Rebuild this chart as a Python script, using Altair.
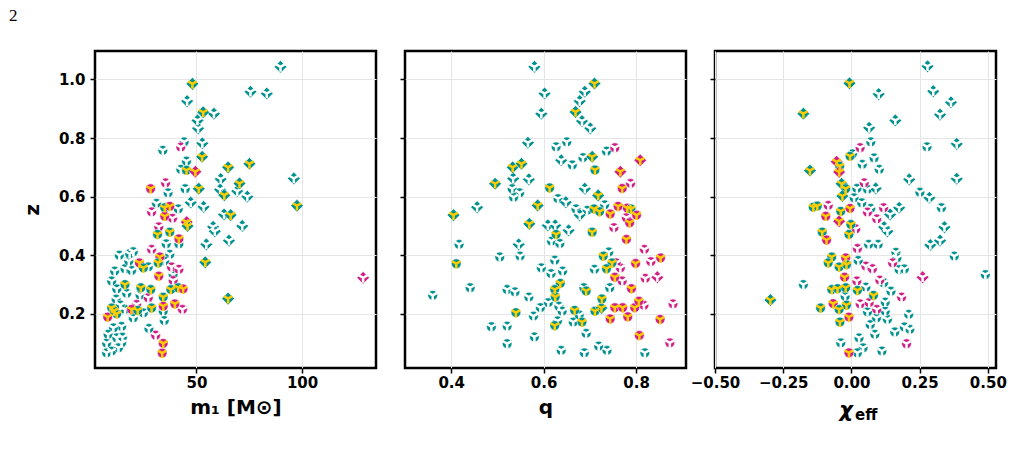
import altair as alt
import pandas as pd

# ---------------- data ----------------
# category codes: A teal circle/white, B teal diamond/white, C teal diamond/yellow,
# D teal circle/yellow, E magenta circle/white, F magenta circle/yellow,
# G magenta diamond/white, H magenta diamond/yellow
m1_x = [89.8, 48.1, 45.6, 75.6, 83.3, 53.2, 58.3, 50.5, 50.8, 44.2, 52.8, 42.6, 34.1, 52.7, 45.3, 42.6, 45.3, 49.5,
        65.0, 75.1, 61.5, 70.4, 69.3, 74.1, 61.2, 63.2, 96.1, 97.6, 51.1, 44.7, 36.6, 28.3, 35.4, 47.3, 53.4, 31.1,
        28.8, 35.0, 37.4, 41.4, 35.0, 38.7, 45.4, 45.8, 63.1, 66.2, 71.7, 57.9, 58.7, 32.2, 31.6, 37.4, 41.7, 41.7,
        35.7, 54.7, 65.4, 28.8, 20.1, 54.2, 37.4, 32.7, 35.0, 23.0, 24.9, 27.2, 31.9, 38.2, 41.7, 16.2, 19.3, 32.2,
        39.0, 39.0, 16.2, 23.7, 28.4, 37.9, 41.4, 43.7, 23.3, 27.2, 34.3, 39.8, 43.4, 34.3, 21.7, 19.3, 22.2, 28.8,
        34.3, 24.9, 20.1, 16.2, 34.8, 27.5, 30.7, 34.3, 33.8, 14.6, 14.6, 65.0, 128.9, 11.3, 9.9, 12.3, 9.9, 12.3,
        8.0, 10.7, 8.2, 12.3, 7.5, 9.9, 7.5, 13.1, 13.5, 18.0, 12.0, 14.0, 11.0, 17.0, 15.0, 18.4]
m1_z = [1.043, 0.985, 0.926, 0.958, 0.952, 0.888, 0.883, 0.860, 0.833, 0.787, 0.782, 0.769, 0.758, 0.736, 0.721,
        0.693, 0.690, 0.685, 0.700, 0.712, 0.660, 0.645, 0.619, 0.600, 0.624, 0.605, 0.662, 0.569, 0.627, 0.627,
        0.613, 0.627, 0.647, 0.580, 0.565, 0.577, 0.548, 0.562, 0.567, 0.558, 0.533, 0.526, 0.513, 0.500, 0.539,
        0.537, 0.500, 0.497, 0.482, 0.497, 0.471, 0.479, 0.456, 0.439, 0.439, 0.437, 0.450, 0.420, 0.412, 0.376,
        0.403, 0.394, 0.380, 0.374, 0.357, 0.360, 0.374, 0.360, 0.352, 0.354, 0.348, 0.329, 0.334, 0.314, 0.300,
        0.289, 0.283, 0.283, 0.289, 0.285, 0.264, 0.255, 0.257, 0.234, 0.215, 0.226, 0.232, 0.215, 0.212, 0.220,
        0.209, 0.203, 0.186, 0.215, 0.177, 0.150, 0.127, 0.099, 0.066, 0.157, 0.101, 0.252, 0.323, 0.346, 0.312,
        0.285, 0.220, 0.200, 0.189, 0.152, 0.130, 0.118, 0.100, 0.073, 0.067, 0.084, 0.400, 0.380, 0.250, 0.230,
        0.210, 0.270, 0.120, 0.405]
m1_cat = list("BCBBBCBBBABEACAADHCCBCBBBCBCCAAFEBBAEDFAFEHCBCBBBEDDFAABBEACAFAFDADEEAAFAEDDDDDFAEDFEFEFDDAAAAAAEFFAACG"
              "AAADDFAAAAAAAAAAADAAA")

q_x = [0.580, 0.602, 0.595, 0.710, 0.689, 0.678, 0.669, 0.683, 0.701, 0.566, 0.627, 0.650, 0.638, 0.662, 0.685,
       0.705, 0.711, 0.736, 0.754, 0.809, 0.766, 0.788, 0.770, 0.533, 0.552, 0.534, 0.568, 0.532, 0.548, 0.535,
       0.495, 0.613, 0.689, 0.718, 0.631, 0.648, 0.587, 0.456, 0.405, 0.670, 0.694, 0.709, 0.721, 0.732, 0.744,
       0.761, 0.781, 0.789, 0.801, 0.779, 0.786, 0.752, 0.678, 0.569, 0.609, 0.625, 0.654, 0.627, 0.617, 0.635,
       0.705, 0.779, 0.818, 0.853, 0.832, 0.799, 0.846, 0.820, 0.790, 0.770, 0.754, 0.766, 0.757, 0.748, 0.736,
       0.729, 0.741, 0.710, 0.417, 0.411, 0.360, 0.441, 0.505, 0.549, 0.546, 0.595, 0.616, 0.624, 0.641, 0.636,
       0.624, 0.625, 0.521, 0.538, 0.568, 0.610, 0.593, 0.540, 0.578, 0.633, 0.640, 0.630, 0.624, 0.667, 0.664,
       0.677, 0.683, 0.687, 0.692, 0.711, 0.725, 0.726, 0.743, 0.744, 0.754, 0.771, 0.782, 0.797, 0.817, 0.806,
       0.880, 0.852, 0.873, 0.807, 0.819, 0.737, 0.719, 0.688, 0.638, 0.692, 0.580, 0.521, 0.521, 0.487, 0.328]
q_z = [1.043, 0.952, 0.883, 0.986, 0.958, 0.926, 0.889, 0.858, 0.833, 0.784, 0.770, 0.787, 0.724, 0.708, 0.733,
       0.736, 0.691, 0.755, 0.767, 0.724, 0.685, 0.645, 0.628, 0.700, 0.712, 0.662, 0.659, 0.627, 0.613, 0.598,
       0.644, 0.630, 0.627, 0.604, 0.593, 0.581, 0.570, 0.564, 0.537, 0.558, 0.553, 0.558, 0.549, 0.572, 0.541,
       0.567, 0.561, 0.558, 0.537, 0.528, 0.511, 0.494, 0.537, 0.507, 0.502, 0.502, 0.485, 0.471, 0.448, 0.440,
       0.479, 0.454, 0.420, 0.391, 0.378, 0.372, 0.325, 0.321, 0.286, 0.312, 0.325, 0.357, 0.374, 0.374, 0.354,
       0.397, 0.411, 0.352, 0.437, 0.371, 0.263, 0.289, 0.394, 0.397, 0.437, 0.357, 0.337, 0.383, 0.346, 0.304,
       0.283, 0.258, 0.283, 0.275, 0.257, 0.238, 0.221, 0.204, 0.192, 0.226, 0.209, 0.176, 0.160, 0.212, 0.172,
       0.196, 0.172, 0.289, 0.278, 0.209, 0.220, 0.251, 0.289, 0.183, 0.221, 0.221, 0.190, 0.221, 0.229, 0.243,
       0.234, 0.181, 0.101, 0.126, 0.067, 0.075, 0.090, 0.067, 0.075, 0.133, 0.121, 0.098, 0.158, 0.156, 0.147]
q_cat = list("BBBCBBCBBBAABAACDAEHHEFCCBBAAACDBCABCBCAADDAFFFDFEFEBCBBBDAADFEFEFGEFEFEEDDDAAADAAAABAAAADDDAAAAADAAAADDAA"
             "DADDCDAFFFFFEFEFEFAAAAAAAAAA")

chi_x = [0.279, -0.007, 0.100, 0.300, -0.176, 0.065, 0.161, 0.325, 0.365, 0.386, 0.277, 0.071, 0.032, 0.004,
         -0.005, 0.083, 0.040, 0.102, -0.054, -0.043, -0.045, -0.152, 0.212, 0.386, 0.251, 0.286, 0.330, 0.047,
         -0.036, -0.021, 0.020, 0.059, 0.089, -0.033, 0.010, 0.038, 0.071, 0.118, 0.175, 0.142, 0.093, 0.059,
         -0.140, -0.125, -0.085, -0.094, -0.039, -0.005, -0.045, -0.002, 0.016, 0.120, 0.132, 0.341, -0.107,
         -0.091, -0.009, 0.022, 0.063, 0.098, 0.289, 0.325, 0.377, 0.163, 0.167, 0.175, 0.194, 0.151, 0.261,
         0.491, 0.025, 0.053, 0.077, -0.072, -0.085, -0.045, -0.021, -0.018, -0.025, 0.020, 0.104, 0.118, 0.053,
         -0.176, -0.072, -0.051, -0.021, 0.022, -0.023, 0.081, 0.145, 0.184, -0.297, -0.113, -0.067, -0.045,
         -0.018, -0.009, -0.042, 0.032, 0.065, 0.093, 0.124, 0.059, 0.092, 0.132, 0.069, 0.124, 0.210, 0.194,
         0.214, 0.159, 0.086, 0.202, 0.028, 0.043, 0.022, 0.112, -0.039, -0.009]
chi_z = [1.045, 0.987, 0.950, 0.960, 0.883, 0.835, 0.860, 0.880, 0.922, 0.780, 0.770, 0.787, 0.767, 0.746, 0.738,
         0.732, 0.710, 0.693, 0.719, 0.704, 0.684, 0.689, 0.659, 0.661, 0.615, 0.596, 0.562, 0.647, 0.644, 0.627,
         0.628, 0.625, 0.628, 0.602, 0.596, 0.579, 0.560, 0.562, 0.562, 0.539, 0.524, 0.547, 0.564, 0.568, 0.570,
         0.533, 0.550, 0.560, 0.516, 0.505, 0.490, 0.496, 0.482, 0.496, 0.479, 0.452, 0.471, 0.423, 0.437, 0.437,
         0.435, 0.450, 0.397, 0.410, 0.391, 0.351, 0.353, 0.374, 0.325, 0.334, 0.382, 0.363, 0.354, 0.394, 0.374,
         0.360, 0.391, 0.368, 0.325, 0.312, 0.315, 0.306, 0.291, 0.300, 0.283, 0.286, 0.289, 0.280, 0.260, 0.263,
         0.277, 0.257, 0.247, 0.220, 0.235, 0.215, 0.230, 0.189, 0.172, 0.234, 0.238, 0.215, 0.240, 0.207, 0.186,
         0.181, 0.163, 0.209, 0.198, 0.155, 0.147, 0.138, 0.130, 0.098, 0.118, 0.084, 0.067, 0.073, 0.101, 0.067]
chi_cat = list("BCBBCBBBBBAAEADAAAHDHCBBABAECDAABCAAAEBBEEDDEFDFHDEBBBDFDEAABBAAAAAEGAAEEDDDFDFEEAAADDDDADAEC"
               "DFDDFDEEEAAAAAAAAAAAEAAAAAFF")

TEAL = "#00918E"
MAGENTA = "#CF1F87"
YELLOW = "#FFCC00"
STYLE = {
    "A": (TEAL, "circle", "white", 0), "B": (TEAL, "diamond", "white", 0),
    "C": (TEAL, "diamond", YELLOW, 2), "D": (TEAL, "circle", YELLOW, 2),
    "E": (MAGENTA, "circle", "white", 1), "F": (MAGENTA, "circle", YELLOW, 2),
    "G": (MAGENTA, "diamond", "white", 1), "H": (MAGENTA, "diamond", YELLOW, 2),
}
YPATH = "M0,0L0,1M0,0L-0.87,-0.5M0,0L0.87,-0.5"
Z_DOMAIN = [0.015, 1.097]
H = 317
W = 281


def frame(xs, zs, cats):
    n = min(len(xs), len(zs), len(cats))
    rows = []
    for i in range(n):
        outer, shp, inner, grp = STYLE[cats[i]]
        rows.append({"x": xs[i], "z": zs[i], "outer": outer, "shape": shp, "inner": inner,
                     "grp": grp, "size": 160 if shp == "diamond" else 95})
    return pd.DataFrame(rows)


def panel(df, xdomain, xticks, xfmt, xtitle, first, extra=None):
    xenc = alt.X("x:Q", scale=alt.Scale(domain=xdomain, nice=False, zero=False),
                 axis=alt.Axis(values=xticks, format=xfmt, title=xtitle, titlePadding=7))
    if first:
        yaxis = alt.Axis(values=[0.2, 0.4, 0.6, 0.8, 1.0], format=".1f", title="z", titleX=-53,
                         titleAngle=-90, labelPadding=5)
    else:
        yaxis = alt.Axis(values=[0.2, 0.4, 0.6, 0.8, 1.0], labels=False, title=None)
    yenc = alt.Y("z:Q", scale=alt.Scale(domain=Z_DOMAIN, nice=False, zero=False), axis=yaxis)
    layers = []
    for g in [0, 1, 2]:
        sub = df[df["grp"] == g]
        layers.append(alt.Chart(sub).mark_point(filled=True, opacity=1, stroke="white", strokeWidth=0.6).encode(
            x=xenc, y=yenc,
            fill=alt.Fill("outer:N", scale=None),
            shape=alt.Shape("shape:N", scale=None),
            size=alt.Size("size:Q", scale=None)))
        layers.append(alt.Chart(sub).mark_point(shape=YPATH, filled=False, opacity=1, strokeWidth=2.5,
                                                size=95, strokeCap="butt").encode(
            x=xenc, y=yenc, stroke=alt.Stroke("inner:N", scale=None)))
    if extra:
        layers.extend(extra)
    return alt.layer(*layers).properties(width=W, height=H)


p1_extra = [alt.Chart(pd.DataFrame({"t": ["2"]})).mark_text(
    font="Liberation Serif", fontSize=17, align="left", baseline="alphabetic", color="black").encode(
    text="t:N", x=alt.value(-86), y=alt.value(-30))]
p3_extra = [
    alt.Chart(pd.DataFrame({"t": ["χ"]})).mark_text(
        font="DejaVu Sans", fontSize=21, fontWeight="bold", fontStyle="italic", align="center",
        baseline="alphabetic", color="black").encode(text="t:N", x=alt.value(131), y=alt.value(H + 49)),
    alt.Chart(pd.DataFrame({"t": ["eff"]})).mark_text(
        font="DejaVu Sans", fontSize=15, fontWeight="bold", align="left",
        baseline="alphabetic", color="black").encode(text="t:N", x=alt.value(140), y=alt.value(H + 52)),
]

p1 = panel(frame(m1_x, m1_z, m1_cat), [2, 135], [50, 100], "d", "m₁ [M⊙]", True, p1_extra)
p2 = panel(frame(q_x, q_z, q_cat), [0.30, 0.908], [0.4, 0.6, 0.8], ".1f", "q", False)
p3 = panel(frame(chi_x, chi_z, chi_cat), [-0.5, 0.53], [-0.5, -0.25, 0.0, 0.25, 0.5], ".2f", None, False,
           p3_extra)

chart = alt.hconcat(p1, p2, p3, spacing=29, bounds="flush").properties(
    padding={"left": 7, "top": 5, "right": 0, "bottom": 0}
).configure_view(
    stroke="black", strokeWidth=2.5
).configure_axis(
    domain=False, grid=True, gridColor="#e5e5e5", gridWidth=1,
    ticks=True, tickColor="black", tickWidth=1.5, tickSize=5,
    labelFlush=False, labelOverlap=False,
    labelFont="DejaVu Sans", labelFontSize=15, labelFontWeight="bold", labelColor="black",
    titleFont="DejaVu Sans", titleFontSize=20, titleFontWeight="bold", titleColor="black"
)

chart.save("out.html", embed_options={"renderer": "svg", "actions": False})
